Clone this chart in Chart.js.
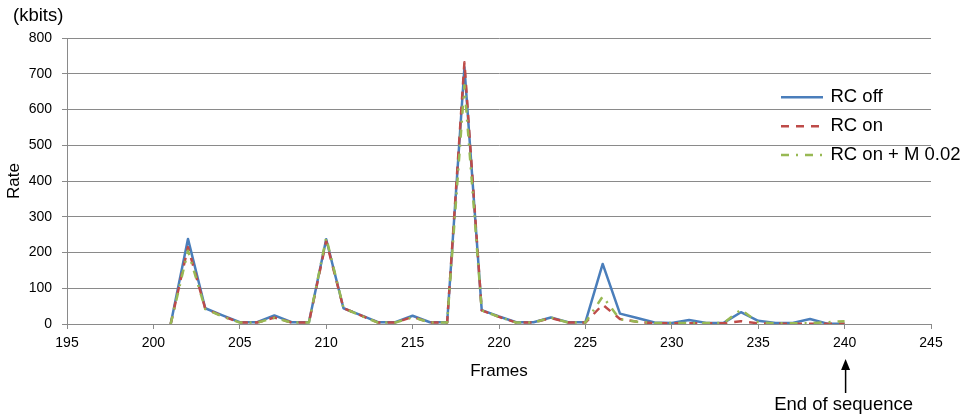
<!DOCTYPE html>
<html>
<head>
<meta charset="utf-8">
<script src="https://cdn.jsdelivr.net/npm/chart.js@4/dist/chart.umd.min.js"></script>
<style>
  html, body { margin: 0; padding: 0; background: #ffffff; }
  #wrap { width: 969px; height: 418px; position: relative; }
</style>
</head>
<body>
<div id="wrap"><canvas id="c" width="969" height="418"></canvas></div>
<script>
// ---- data ----
const frames = [201,202,203,204,205,206,207,208,209,210,211,212,213,214,215,216,217,218,219,220,
                221,222,223,224,225,226,227,228,229,230,231,232,233,234,235,236,237,238,239,240];
const rcOff = [0,238,44,24,5,5,24,5,5,237,44,25,5,5,23,5,5,718,39,21,
               5,5,18,5,5,168,29,17,4,3,11,3,3,33,9,3,3,14,1,1];
const rcOn  = [0,215,43,22,4,4,18,4,4,232,44,24,4,4,20,4,4,732,38,20,
               4,4,17,4,4,54,14,6,2,2,2,2,2,8,2,1,1,1,1,1];
const rcOnM = [0,205,42,21,4,4,17,4,4,241,45,23,4,4,19,4,4,668,38,20,
               4,4,18,4,4,77,13,6,3,3,3,3,3,40,5,2,2,2,5,8];
const seriesNames = ['RC off', 'RC on', 'RC on + M 0.02'];
const xMin = 195, xMax = 245, xStep = 5;
const yMin = 0, yMax = 800, yStep = 100;
const yUnit = '(kbits)';
const yTitle = 'Rate';
const xTitle = 'Frames';
const noteText = 'End of sequence';
const noteFrame = 240;

// ---- styles ----
const colors = ['#4A7EBB', '#BE4B48', '#98B954'];
const dashes = [[], [8, 7], [8, 7, 2, 7]];
const FONT = '"Liberation Sans", Arial, sans-serif';
const gridColor = '#8a8a8a';
const LW = 2.5;

const toPts = arr => frames.map((f, i) => ({x: f, y: arr[i]}));
const seriesData = [rcOff, rcOn, rcOnM];

const datasets = seriesData.map((arr, i) => ({
  label: seriesNames[i],
  data: toPts(arr),
  borderColor: colors[i],
  backgroundColor: colors[i],
  borderWidth: LW,
  borderDash: dashes[i],
  borderCapStyle: 'butt',
  borderJoinStyle: 'round',
  pointRadius: 0,
  pointHoverRadius: 0,
  tension: 0,
  fill: false,
  order: 2 - i
}));

const annotations = {
  id: 'annotations',
  afterDraw(chart) {
    const ctx = chart.ctx;
    const area = chart.chartArea;
    const xs = chart.scales.x;
    ctx.save();
    ctx.fillStyle = '#000';
    ctx.font = '18.5px ' + FONT;
    // unit label
    ctx.textAlign = 'left';
    ctx.textBaseline = 'alphabetic';
    ctx.fillText(yUnit, 13, 21);
    // y title
    ctx.save();
    ctx.translate(20, (area.top + area.bottom) / 2);
    ctx.rotate(-Math.PI / 2);
    ctx.textAlign = 'center';
    ctx.textBaseline = 'middle';
    ctx.font = '17px ' + FONT;
    ctx.fillText(yTitle, 0, -6);
    ctx.restore();
    // x title
    ctx.textAlign = 'center';
    ctx.textBaseline = 'middle';
    ctx.font = '17px ' + FONT;
    ctx.fillText(xTitle, (area.left + area.right) / 2, 371);
    // end of sequence note + arrow
    const ax = xs.getPixelForValue(noteFrame) + 1;
    ctx.font = '18.5px ' + FONT;
    ctx.textBaseline = 'alphabetic';
    ctx.fillText(noteText, ax - 2, 410);
    ctx.strokeStyle = '#000';
    ctx.lineWidth = 1.5;
    ctx.beginPath();
    ctx.moveTo(ax, 393);
    ctx.lineTo(ax, 366);
    ctx.stroke();
    ctx.beginPath();
    ctx.moveTo(ax, 359);
    ctx.lineTo(ax - 4.5, 370);
    ctx.lineTo(ax + 4.5, 370);
    ctx.closePath();
    ctx.fill();
    // legend
    const legendY = [97.3, 126.3, 155];
    ctx.textAlign = 'left';
    ctx.font = '18.5px ' + FONT;
    seriesNames.forEach((name, i) => {
      ctx.save();
      ctx.strokeStyle = colors[i];
      ctx.lineWidth = LW;
      ctx.lineCap = 'butt';
      ctx.setLineDash(dashes[i]);
      ctx.beginPath();
      ctx.moveTo(781, legendY[i]);
      ctx.lineTo(823, legendY[i]);
      ctx.stroke();
      ctx.restore();
      ctx.fillStyle = '#000';
      ctx.fillText(name, 830.5, legendY[i] + 4.6);
    });
    ctx.restore();
  }
};

new Chart(document.getElementById('c'), {
  type: 'line',
  data: { datasets },
  options: {
    responsive: false,
    animation: false,
    events: [],
    layout: { padding: { top: 38, right: 38, left: 0, bottom: 0 } },
    plugins: {
      legend: { display: false },
      tooltip: { enabled: false },
      title: { display: false }
    },
    scales: {
      x: {
        type: 'linear',
        min: xMin, max: xMax,
        afterFit(s) { s.height = 94; },
        ticks: { stepSize: xStep, color: '#000', font: { family: FONT, size: 14 }, padding: 6, maxRotation: 0 },
        grid: { drawOnChartArea: false, drawTicks: true, tickLength: 5, color: gridColor, lineWidth: 1 },
        border: { display: true, color: gridColor, width: 1 }
      },
      y: {
        min: yMin, max: yMax,
        afterFit(s) { s.width = 67; },
        ticks: { stepSize: yStep, color: '#000', font: { family: FONT, size: 14 }, padding: 10 },
        grid: { drawOnChartArea: true, drawTicks: true, tickLength: 5, color: gridColor, lineWidth: 1 },
        border: { display: true, color: gridColor, width: 1 }
      }
    }
  },
  plugins: [annotations]
});
</script>
</body>
</html>
